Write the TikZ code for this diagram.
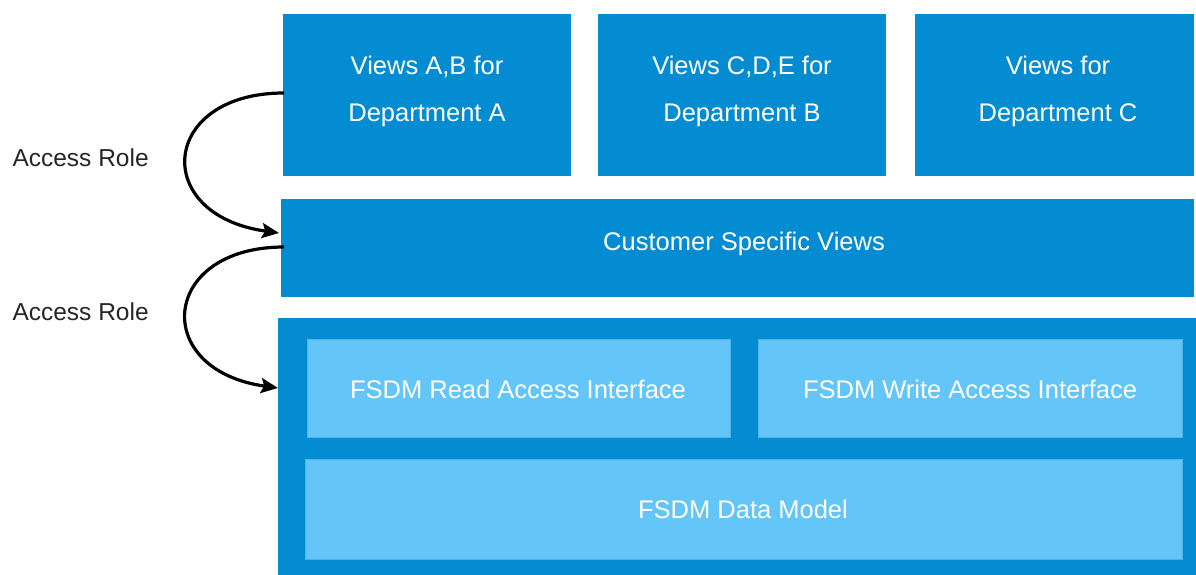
\documentclass[tikz,border=0pt]{standalone}
\usepackage{fontspec}
\setmainfont{Liberation Sans}
\usetikzlibrary{arrows.meta}
\definecolor{darkb}{HTML}{048CD2}
\definecolor{lightb}{HTML}{64C5F8}
\definecolor{lightedge}{HTML}{4FB3EA}
\begin{document}
\begin{tikzpicture}[x=1pt,y=-1pt,
  dbox/.style={fill=darkb,draw=none},
  lbox/.style={fill=lightb,draw=lightedge,line width=0.8pt},
  txt/.style={text=white,font=\fontsize{25.5}{47}\selectfont,align=center},
  lbl/.style={text=black!85,font=\fontsize{24.5}{28}\selectfont,anchor=west},
  arr/.style={line width=3.2pt,-{Stealth[length=17pt,width=15pt,inset=3pt]}}]
\useasboundingbox (0,0) rectangle (1196,575);
% top boxes
\path[dbox] (283,14) rectangle (571,176);
\node[txt] (b1) at (427,91.5) {Views A,B for\\Department A};
\path[dbox] (598,14) rectangle (886,176);
\node[txt] (b2) at (742,91.5) {Views C,D,E for\\Department B};
\path[dbox] (915,14) rectangle (1194,176);
\node[txt] (b3) at (1058,91.5) {Views for\\Department C};
% customer specific views
\path[dbox] (281,199) rectangle (1194,297);
\node[txt] (cv) at (744,244) {Customer Specific Views};
% outer
\path[dbox] (278,318) rectangle (1196,575);
\path[lbox] (307,339) rectangle (730,437);
\node[txt] (ra) at (518,389) {FSDM Read Access Interface};
\path[lbox] (758,339) rectangle (1182,437);
\node[txt] (wa) at (970,389) {FSDM Write Access Interface};
\path[lbox] (305,459) rectangle (1182,559);
\node[txt] (dm) at (743,509) {FSDM Data Model};
% labels
\node[lbl] (l1) at (9,158) {Access Role};
\node[lbl] (l2) at (9,312) {Access Role};
% arrows
\coordinate (s1) at (284,93);
\coordinate (e1) at (279,233);
\coordinate (s2) at (284,247);
\coordinate (e2) at (278,388);
\draw[arr] (s1) .. controls (160,93) and (150,215) .. (e1);
\draw[arr] (s2) .. controls (160,247) and (150,370) .. (e2);
\end{tikzpicture}
\end{document}
